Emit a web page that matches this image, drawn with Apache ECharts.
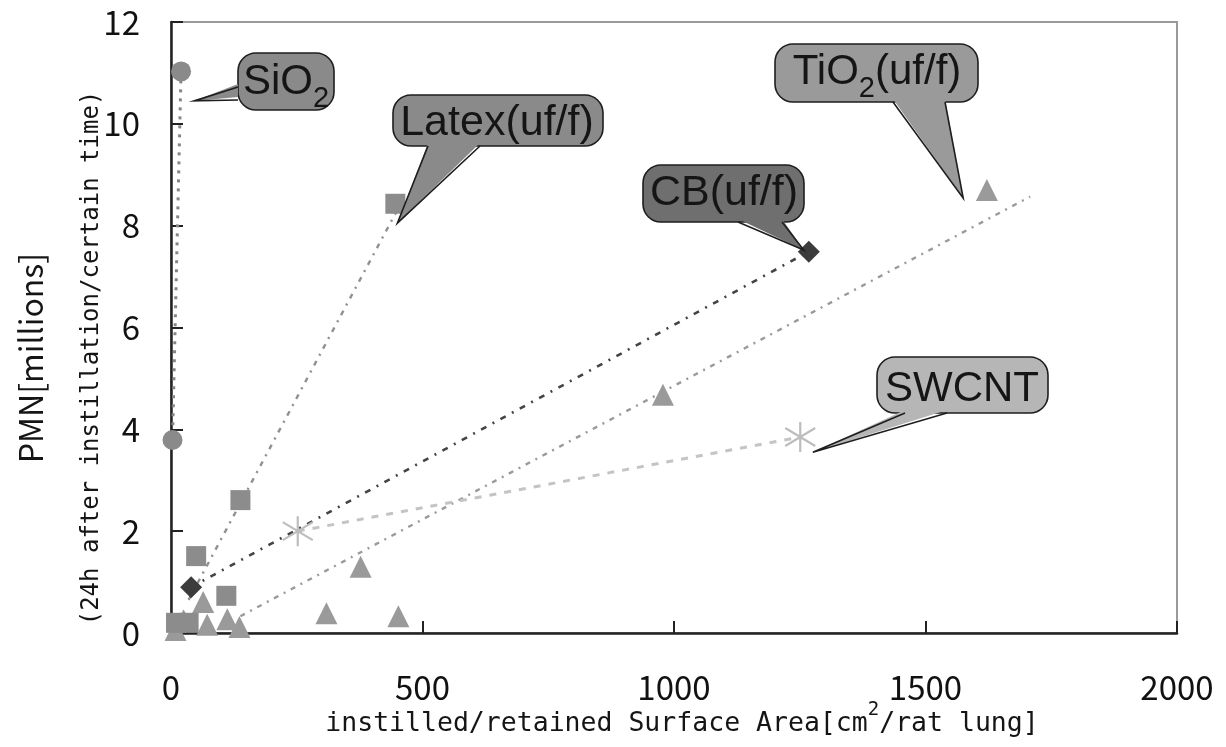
<!DOCTYPE html>
<html>
<head>
<meta charset="utf-8">
<script src="https://cdn.jsdelivr.net/npm/echarts@6/dist/echarts.min.js"></script>
<style>
  html, body { margin: 0; padding: 0; background: #fff; }
  #chart { width: 1226px; height: 747px; }
</style>
</head>
<body>
<div id="chart"></div>
<script>
// data: [surface area cm2, PMN millions]
const sio2Points = [[20, 11.03], [3, 3.79]]
const latexPoints = [[446, 8.43], [138, 2.61], [50, 1.51], [110, 0.73], [10, 0.2], [35, 0.2]]
const cbPoints = [[40, 0.9], [1268, 7.49]]
const tio2Points = [[1622, 8.7], [978, 4.68], [377, 1.3], [309, 0.39], [452, 0.33],
  [64, 0.61], [112, 0.27], [72, 0.16], [136, 0.12], [25, 0.25], [9, 0.06]]
const swcntPoints = [[252, 2.0], [1251, 3.85]]
// dotted trend lines
const latexTrend = [[35, 0.65], [450, 8.31]]
const tio2Trend = [[138, 0.33], [1708, 8.57]]
// axis ticks
const xTicks = [0, 500, 1000, 1500, 2000]
const yTicks = [0, 2, 4, 6, 8, 10, 12]

const tickFont = '"Noto Sans CJK JP", "Noto Sans", sans-serif'
const monoFont = '"DejaVu Sans Mono", "Liberation Mono", monospace'
const calloutFont = '"Liberation Sans", Arial, sans-serif'

const chart = echarts.init(document.getElementById('chart'))

const scatter = (name, data, symbol, size, color, extra) => Object.assign({
  name, type: 'scatter', data, symbol, symbolSize: size, z: 5,
  itemStyle: { color, opacity: 1 }
}, extra || {})

const line = (name, data, color, width, dash) => ({
  name, type: 'line', data, showSymbol: false, symbol: 'none', z: 4,
  lineStyle: { color, width, type: dash }
})

const asterisk = 'path://M15 0 L15 30 M2 6 L28 24 M2 24 L28 6'

const option = {
  animation: false,
  grid: {
    left: 171, right: 49, top: 22, bottom: 114,
    show: true, borderColor: '#9a9a9a', borderWidth: 2
  },
  xAxis: {
    type: 'value', min: xTicks[0], max: xTicks[xTicks.length - 1], interval: 500,
    axisLine: { show: true, onZero: false, lineStyle: { color: '#222', width: 2.5 } },
    axisTick: { show: true, inside: true, length: 12, lineStyle: { color: '#222', width: 2 } },
    axisLabel: { margin: 38, fontSize: 33, color: '#111', fontFamily: tickFont,
      formatter: v => String(v) },
    splitLine: { show: false }
  },
  yAxis: {
    type: 'value', min: yTicks[0], max: yTicks[yTicks.length - 1], interval: 2,
    axisLine: { show: true, onZero: false, lineStyle: { color: '#222', width: 2.5 } },
    axisTick: { show: true, inside: true, length: 12, lineStyle: { color: '#222', width: 2 } },
    axisLabel: { margin: 31, fontSize: 33, color: '#111', fontFamily: tickFont,
      formatter: v => String(v) },
    splitLine: { show: false }
  },
  series: [
    line('SiO2 line', sio2Points, '#858585', 3, [3, 6]),
    line('Latex trend', latexTrend, '#909090', 2.4, [5, 6, 2, 6]),
    line('CB line', cbPoints, '#444', 2.6, [6, 7, 2, 7]),
    line('TiO2 trend', tio2Trend, '#9a9a9a', 2.4, [5, 6, 2, 6]),
    line('SWCNT line', swcntPoints, '#c4c4c4', 3, [7, 8]),
    scatter('TiO2', tio2Points, 'triangle', 22, '#9a9a9a'),
    scatter('Latex', latexPoints, 'rect', 20, '#8c8c8c'),
    scatter('SiO2', sio2Points, 'circle', 20, '#8a8a8a'),
    scatter('CB', cbPoints, 'diamond', 22, '#3c3c3c'),
    scatter('SWCNT', swcntPoints, asterisk, 30, 'transparent', {
      itemStyle: { color: 'transparent', borderColor: '#bdbdbd', borderWidth: 2.2, opacity: 1 }
    })
  ]
}
chart.setOption(option)

// callout bubbles, built after the axes exist so the tips follow the data scale
const ctx = document.createElement('canvas').getContext('2d')
const textWidth = (t, font) => { ctx.font = font; return ctx.measureText(t).width }

function bubble(box, base, tip, fill) {
  const [x, y, w, h] = box
  const p = chart.convertToPixel({ gridIndex: 0 }, tip)
  const inset = base.inset || [0, -3]
  return [
    { type: 'rect', z: 100, shape: { x, y, width: w, height: h, r: 18 },
      style: { fill, stroke: '#1e1e1e', lineWidth: 1.6 } },
    { type: 'polygon', z: 101, shape: { points: [
      [base[0][0] + inset[0], base[0][1] + inset[1]],
      [base[1][0] + inset[0], base[1][1] + inset[1]], p] },
      style: { fill, stroke: null } },
    { type: 'polyline', z: 102, shape: { points: [base[0], p, base[1]] },
      style: { stroke: '#1e1e1e', lineWidth: 1.6, fill: null } }
  ]
}

function label(parts, cx, cy) {
  // parts: [text, fontSize, dy]
  const widths = parts.map(([t, fs]) => textWidth(t, fs + 'px ' + calloutFont))
  let x = cx - widths.reduce((a, b) => a + b, 0) / 2
  return parts.map(([t, fs, dy], i) => {
    const el = { type: 'text', z: 103, x, y: cy + dy,
      style: { text: t, font: fs + 'px ' + calloutFont, fill: '#151515',
        textAlign: 'left', textVerticalAlign: 'middle' } }
    x += widths[i]
    return el
  })
}

const graphics = [].concat(
  bubble([238, 53, 96, 57], [[238, 87], [238, 100]], [46, 10.45], '#8a8a8a'),
  label([['SiO', 42, 0], ['2', 29, 17]], 286, 82),
  bubble([393, 95, 210, 51], [[428, 146], [480, 146]], [450, 8.05], '#8a8a8a'),
  label([['Latex(uf/f)', 43, 0]], 497, 123),
  bubble([643, 165, 161, 57], [[738, 222], [782, 222]], [1258, 7.52], '#6f6f6f'),
  label([['CB(uf/f)', 43, 0]], 724, 193),
  bubble([775, 44, 203, 58], [[893, 102], [945, 102]], [1575, 8.54], '#9a9a9a'),
  label([['TiO', 42, 0], ['2', 29, 17], ['(uf/f)', 42, 0]], 877, 72),
  bubble([877, 357, 171, 56], [[905, 413], [947, 413]], [1276, 3.55], '#b6b6b6'),
  label([['SWCNT', 42, 0]], 962, 389)
)

// axis titles
const xFs = 26.5
const xParts = [['instilled/retained Surface Area[cm', xFs, 0], ['2', 19, -14], ['/rat lung]', xFs, 0]]
const xw = xParts.map(([t, fs]) => textWidth(t, fs + 'px ' + monoFont))
let xx = 682 - xw.reduce((a, b) => a + b, 0) / 2
xParts.forEach(([t, fs, dy], i) => {
  graphics.push({ type: 'text', x: xx, y: 724 + dy,
    style: { text: t, font: fs + 'px ' + monoFont, fill: '#151515',
      textAlign: 'left', textVerticalAlign: 'middle' } })
  xx += xw[i]
})
graphics.push(
  { type: 'text', x: 31, y: 358, rotation: Math.PI / 2,
    style: { text: 'PMN[millions]', font: '32px ' + tickFont, fill: '#151515',
      textAlign: 'center', textVerticalAlign: 'middle' } },
  { type: 'text', x: 92, y: 358, rotation: Math.PI / 2,
    style: { text: '(24h after instillation/certain time)', font: '24px ' + monoFont, fill: '#151515',
      textAlign: 'center', textVerticalAlign: 'middle' } }
)

chart.setOption({ graphic: graphics })

window.addEventListener('resize', () => chart.resize())
</script>
</body>
</html>
